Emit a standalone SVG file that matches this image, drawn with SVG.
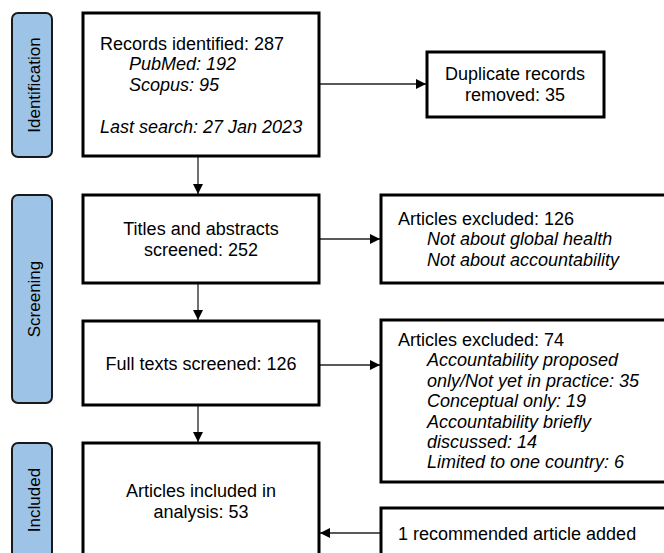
<svg xmlns="http://www.w3.org/2000/svg" width="664" height="553" viewBox="0 0 664 553">
<defs>
<style>
.box{fill:#fff;stroke:#000;stroke-width:3}
.lab{fill:#9dc3e6;stroke:#1a1a1a;stroke-width:2}
.t{font-family:"Liberation Sans",Arial,sans-serif;font-size:18px;fill:#000}
.v{font-family:"Liberation Sans",Arial,sans-serif;font-size:17px;fill:#000;text-anchor:middle}
.i{font-style:italic}
.c{text-anchor:middle}
.con{stroke:#222;stroke-width:1.3;fill:none;marker-end:url(#ah)}
</style>
<marker id="ah" viewBox="0 0 10 10" refX="10" refY="5" markerWidth="10" markerHeight="10" markerUnits="userSpaceOnUse" orient="auto">
<path d="M0,0 L10,5 L0,10 z" fill="#000"/>
</marker>
</defs>
<rect width="664" height="553" fill="#fff"/>

<g id="label-identification">
<rect class="lab" x="12" y="13" width="40" height="144" rx="6"/>
<text class="v" transform="translate(40,85) rotate(-90)">Identification</text>
</g>
<g id="label-screening">
<rect class="lab" x="12" y="195" width="40" height="208" rx="6"/>
<text class="v" transform="translate(40,299) rotate(-90)">Screening</text>
</g>
<g id="label-included">
<rect class="lab" x="12" y="443" width="40" height="130" rx="6"/>
<text class="v" transform="translate(40,500) rotate(-90)">Included</text>
</g>

<g id="connectors">
<line class="con" x1="320" y1="84" x2="426" y2="84"/>
<line class="con" x1="198" y1="157" x2="198" y2="194"/>
<line class="con" x1="320" y1="239" x2="380" y2="239"/>
<line class="con" x1="198" y1="284" x2="198" y2="320"/>
<line class="con" x1="320" y1="365" x2="380" y2="365"/>
<line class="con" x1="198" y1="406" x2="198" y2="442"/>
<line class="con" x1="380" y1="533" x2="320" y2="533"/>
</g>

<g id="records-identified">
<rect class="box" x="83" y="13" width="236" height="143"/>
<text class="t" x="100" y="50">Records identified: 287</text>
<text class="t i" x="129" y="70">PubMed: 192</text>
<text class="t i" x="129" y="91">Scopus: 95</text>
<text class="t i" x="100" y="133">Last search: 27 Jan 2023</text>
</g>
<g id="duplicates">
<rect class="box" x="427" y="52" width="177" height="65"/>
<text class="t c" x="515" y="80">Duplicate records</text>
<text class="t c" x="515" y="101">removed: 35</text>
</g>
<g id="titles-screened">
<rect class="box" x="83" y="195" width="236" height="88"/>
<text class="t c" x="201" y="235">Titles and abstracts</text>
<text class="t c" x="201" y="256">screened: 252</text>
</g>
<g id="excluded-126">
<rect class="box" x="381" y="195" width="300" height="88"/>
<text class="t" x="398" y="225">Articles excluded: 126</text>
<text class="t i" x="427" y="245">Not about global health</text>
<text class="t i" x="427" y="266">Not about accountability</text>
</g>
<g id="full-texts">
<rect class="box" x="83" y="321" width="236" height="84"/>
<text class="t c" x="201" y="370">Full texts screened: 126</text>
</g>
<g id="excluded-74">
<rect class="box" x="381" y="320" width="300" height="162"/>
<text class="t" x="398" y="346">Articles excluded: 74</text>
<text class="t i" x="427" y="366">Accountability proposed</text>
<text class="t i" x="427" y="387">only/Not yet in practice: 35</text>
<text class="t i" x="427" y="407">Conceptual only: 19</text>
<text class="t i" x="427" y="428">Accountability briefly</text>
<text class="t i" x="427" y="448">discussed: 14</text>
<text class="t i" x="427" y="468">Limited to one country: 6</text>
</g>
<g id="included">
<rect class="box" x="83" y="443" width="236" height="130"/>
<text class="t c" x="201" y="497">Articles included in</text>
<text class="t c" x="201" y="518">analysis: 53</text>
</g>
<g id="recommended">
<rect class="box" x="381" y="508" width="300" height="70"/>
<text class="t" x="398" y="540">1 recommended article added</text>
</g>
</svg>
